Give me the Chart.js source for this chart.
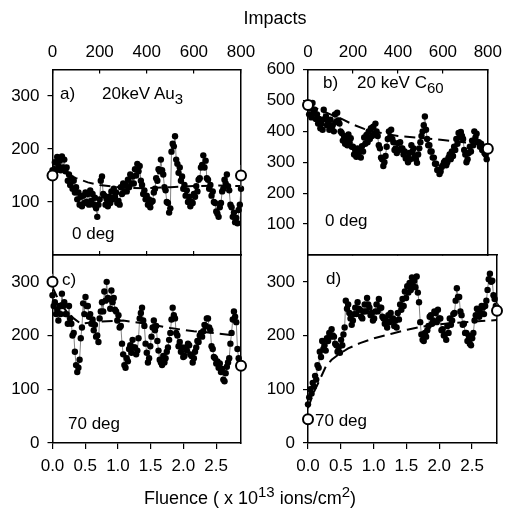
<!DOCTYPE html>
<html>
<head>
<meta charset="utf-8">
<script src="https://cdn.jsdelivr.net/npm/chart.js@4.4.1/dist/chart.umd.min.js"></script>
<style>
  body { margin: 0; background: #fff; }
  #wrap { position: relative; width: 513px; height: 516px; overflow: hidden; font-family: "Liberation Sans", Arial, sans-serif; color: #000; }
  canvas { position: absolute; left: 0; top: 0; }
  .t { position: absolute; font-size: 17px; line-height: 1; white-space: nowrap; }
  .t sub { font-size: 15px; vertical-align: -5px; line-height: 0; }
  .t sup { font-size: 15px; vertical-align: 7px; line-height: 0; }
</style>
</head>
<body>
<div id="wrap">
  <canvas id="ca" width="513" height="516"></canvas>
  <canvas id="cb" width="513" height="516"></canvas>
  <canvas id="cc" width="513" height="516"></canvas>
  <canvas id="cd" width="513" height="516"></canvas>

  <div class="t" style="left:275px;top:9px;transform:translateX(-50%);font-size:18px">Impacts</div>
  <div class="t" style="left:250px;top:489px;transform:translateX(-50%);font-size:18px">Fluence ( x 10<sup>13</sup> ions/cm<sup>2</sup>)</div>

  <div class="t" style="left:60px;top:85px">a)</div>
  <div class="t" style="left:102px;top:85px">20keV Au<sub>3</sub></div>
  <div class="t" style="left:72px;top:225px">0 deg</div>

  <div class="t" style="left:323px;top:74px">b)</div>
  <div class="t" style="left:357px;top:74px">20 keV C<sub>60</sub></div>
  <div class="t" style="left:325px;top:212px">0 deg</div>

  <div class="t" style="left:62px;top:271px">c)</div>
  <div class="t" style="left:68px;top:415px">70 deg</div>

  <div class="t" style="left:326px;top:270px">d)</div>
  <div class="t" style="left:315px;top:412px">70 deg</div>
</div>

<script>
// ── Amostragem (impactos) comum aos quatro painéis ──────────────
const impacts = [
  0,5,10,15,20,25,30,35,40,45, 50,55,60,65,70,75,80,85,90,95,
  100,105,110,115,120,125,130,135,140,145, 150,155,160,165,170,175,180,185,190,195,
  200,205,210,215,220,225,230,235,240,245, 250,255,260,265,270,275,280,285,290,295,
  300,305,310,315,320,325,330,335,340,345, 350,355,360,365,370,375,380,385,390,395,
  400,405,410,415,420,425,430,435,440,445, 450,455,460,465,470,475,480,485,490,495,
  500,505,510,515,520,525,530,535,540,545, 550,555,560,565,570,575,580,585,590,595,
  600,605,610,615,620,625,630,635,640,645, 650,655,660,665,670,675,680,685,690,695,
  700,705,710,715,720,725,730,735,740,745, 750,755,760,765,770,775,780,785,790,795,
  800];

// a) 20keV Au3, 0 deg
const aVals = [
  160,148,175,160,185,168,178,160,186,165, 180,158,165,140,152,132,145,125,140,118,
  128,105,118,95,110,92,112,98,118,100, 115,95,122,102,115,95,108,88,72,95,
  105,140,148,115,112,95,105,92,110,98, 120,105,125,110,118,98,102,95,128,115,
  135,120,132,120,142,128,152,135,148,135, 162,150,172,158,168,140,132,115,122,105,
  112,95,105,90,100,102,118,125,145,140, 162,158,180,160,152,128,122,100,98,80,
  88,195,210,205,224,180,172,155,165,140, 148,125,132,112,122,100,110,92,100,98,
  115,110,130,120,142,145,165,170,188,165, 178,145,142,125,132,112,120,100,98,82,
  78,72,90,98,120,125,142,135,152,130, 122,95,90,72,80,62,70,60,85,95,
  125];
// b) 20 keV C60, 0 deg
const bVals = [
  482,455,475,445,492,460,470,440,455,425, 440,410,425,405,470,440,448,420,430,405,
  438,410,420,400,455,430,460,435,425,400, 395,370,385,360,375,355,390,365,378,350,
  350,325,340,318,345,320,335,315,352,335, 380,360,388,365,400,375,410,385,415,392,
  425,400,385,355,345,315,310,288,300,320, 350,375,400,380,405,375,365,340,345,330,
  362,340,365,345,345,325,335,312,315,300, 330,310,355,335,345,320,310,298,325,345,
  365,385,400,420,448,405,375,355,355,335, 335,315,315,295,295,275,275,262,270,285,
  290,300,305,290,300,315,325,310,335,320, 350,340,375,360,395,380,398,385,375,340,
  325,300,310,330,350,335,370,355,400,380, 392,365,365,350,360,340,350,330,325,310,
  340];
// c) 20keV Au3, 70 deg
const cVals = [
  275,255,262,240,248,228,255,240,278,255, 262,240,240,222,255,232,222,200,205,170,
  145,132,140,155,195,215,260,240,272,255, 255,235,240,222,230,210,220,198,200,188,
  232,245,262,245,282,265,300,270,268,250, 284,262,270,248,245,228,238,215,218,185,
  165,145,140,158,152,175,182,168,192,178, 178,165,172,195,232,242,252,228,218,185,
  168,150,158,180,198,215,228,210,218,190, 172,155,150,145,162,150,158,170,178,192,
  205,230,252,238,232,205,200,180,188,170, 178,160,162,178,172,185,182,165,162,150,
  158,170,178,190,188,200,205,198,208,220, 218,232,232,215,210,180,175,160,158,148,
  152,140,148,132,138,118,115,130,142,150, 158,185,205,230,245,235,225,175,158,150,
  148];
// d) 20 keV C60, 70 deg
const dVals = [
  72,85,100,92,112,105,125,118,145,140, 170,160,190,175,182,172,195,190,205,198,
  212,200,198,185,182,170,178,168,192,182, 202,215,265,250,258,242,232,220,228,240,
  252,240,262,250,248,235,232,245,258,245, 270,258,252,238,242,228,232,245,258,245,
  268,252,252,235,232,222,228,215,238,225, 242,228,232,218,228,215,242,230,258,248,
  268,255,282,270,292,280,298,285,308,292, 302,290,310,280,262,225,202,192,190,205,
  198,210,218,235,238,222,228,245,242,225, 248,232,232,210,212,200,202,192,218,205,
  232,220,228,240,242,265,288,272,272,245, 238,220,222,205,205,190,200,185,182,195,
  205,228,238,250,248,235,242,255,252,240, 255,265,285,305,315,300,302,275,268,255,
  252];

// ── Curvas tracejadas (ajuste) ──────────────────────────────────
const aFitX = [0,50,100,150,200,300,400,500,600,700,800];
const aFitY = [168,155,145,137,132,127,126,128,130,131,130];
const bFitX = [0,50,100,150,200,250,300,400,500,600,700,800];
const bFitY = [485,470,455,440,422,408,398,385,379,372,364,355];
const cFitX = [0,30,60,90,120,200,300,400,500,600,700,780];
const cFitY = [290,262,245,232,222,226,228,222,214,208,204,200];
const dFitX = [0,25,50,75,100,130,170,220,280,350,420,500,600,700,800];
const dFitY = [65,95,118,142,155,165,176,186,195,203,211,218,223,226,229];

// ── Círculos abertos nas extremidades + barras de erro ─────────
const endX = [0, 800];
const aEnds = [150, 150];
const bEnds = [485, 344];
const cEnds = [300, 144];
const dEnds = [44, 246];
const aErrX = [800, 800], aErrY = [128, 170];
const cErrX = [0, 0], cErrY = [286, 315];
const dErrX = [800, 800], dErrY = [232, 260];

// ── Ticks ───────────────────────────────────────────────────────
const impactTicks = [0, 200, 400, 600, 800];
const fluenceTicks = [0.0, 0.5, 1.0, 1.5, 2.0, 2.5];
const FLUENCE_MAX = 2.88;

Chart.defaults.font.family = '"Liberation Sans", Arial, sans-serif';
Chart.defaults.font.size = 17;
Chart.defaults.color = '#000';

const pts = (xs, ys) => xs.map((x, i) => ({ x, y: ys[i] }));
const K = '#000';

function makePanel(id, o) {
  // primeiro dataset = desenhado por cima
  const datasets = [
    { data: pts(endX, o.ends), showLine: false, pointRadius: 5, pointBorderWidth: 2,
      pointBorderColor: K, pointBackgroundColor: '#fff', clip: false },
    { data: pts(o.errX || [], o.errY || []), borderColor: '#777', borderWidth: 1, pointRadius: 0, clip: false },
    { data: pts(o.fitX, o.fitY), borderColor: K, borderWidth: 2, borderDash: [11, 6], pointRadius: 0, clip: false },
    { data: pts(impacts, o.vals), borderColor: '#666', borderWidth: 0.8, pointRadius: 3.2,
      pointBorderWidth: 0, pointBackgroundColor: K, clip: false },
  ];

  const border = { color: K, width: 1.5 };
  const hideZero = ctx => (o.showZero || ctx.tick.value !== 0) ? K : 'rgba(0,0,0,0)';
  const scales = {
    y: { type: 'linear', position: 'left', min: 0, max: o.ymax, border,
      ticks: { stepSize: 100, includeBounds: false, padding: 8,
        callback: v => (v === 0 && !o.showZero) ? '' : v },
      grid: { drawOnChartArea: false, tickLength: 5, color: hideZero, lineWidth: 1.2 },
      afterFit: s => { s.width = 45; } },
    yr: { type: 'linear', position: 'right', min: 0, max: o.ymax, border,
      ticks: { display: false }, grid: { drawOnChartArea: false, drawTicks: false },
      afterFit: s => { s.width = 0; } },
  };

  if (o.top) {
    scales.x = { type: 'linear', position: 'top', min: 0, max: 800, border,
      ticks: { stepSize: 200, padding: 11, maxRotation: 0 },
      grid: { drawOnChartArea: false, tickLength: -4, color: K, lineWidth: 1.2 },
      afterFit: s => { s.height = 40; } };
    scales.xb = { type: 'linear', position: 'bottom', min: 0, max: 800, border,
      ticks: { display: false, stepSize: 200 },
      grid: { drawOnChartArea: false, tickLength: o.bottomTicks ? -4 : 0, color: K, lineWidth: 1.2 },
      afterFit: s => { s.height = 0; } };
  } else {
    scales.x = { type: 'linear', position: 'top', min: 0, max: 800, border,
      ticks: { display: false }, grid: { drawOnChartArea: false, drawTicks: false },
      afterFit: s => { s.height = 0; } };
    scales.xf = { type: 'linear', position: 'bottom', min: 0, max: FLUENCE_MAX, border,
      ticks: { stepSize: 0.5, includeBounds: false, padding: 7, maxRotation: 0,
        callback: v => fluenceTicks.some(f => Math.abs(f - v) < 1e-6) ? v.toFixed(1) : '' },
      grid: { drawOnChartArea: false, tickLength: 6, color: K, lineWidth: 1.2 },
      afterFit: s => { s.height = 40; } };
  }

  const a = o.area; // [left, top, right, bottom] da área do gráfico
  new Chart(document.getElementById(id), {
    type: 'line',
    data: { datasets },
    options: {
      responsive: false,
      animation: false,
      plugins: { legend: { display: false }, tooltip: { enabled: false } },
      layout: { padding: {
        left: a[0] - 45,
        right: 513 - a[2],
        top: o.top ? a[1] - 40 : a[1],
        bottom: o.top ? 516 - a[3] : 516 - a[3] - 40,
      } },
      scales,
    },
  });
}

makePanel('ca', { vals: aVals, fitX: aFitX, fitY: aFitY, ends: aEnds, errX: aErrX, errY: aErrY,
  ymax: 350, top: true, bottomTicks: true, area: [52.5, 69.5, 241, 255] });
makePanel('cb', { vals: bVals, fitX: bFitX, fitY: bFitY, ends: bEnds,
  ymax: 600, top: true, bottomTicks: false, area: [308, 69.5, 497, 255] });
makePanel('cc', { vals: cVals, fitX: cFitX, fitY: cFitY, ends: cEnds, errX: cErrX, errY: cErrY,
  ymax: 350, top: false, showZero: true, area: [52.5, 255, 241, 443] });
makePanel('cd', { vals: dVals, fitX: dFitX, fitY: dFitY, ends: dEnds, errX: dErrX, errY: dErrY,
  ymax: 350, top: false, showZero: true, area: [308, 255, 497, 443] });
</script>
</body>
</html>
